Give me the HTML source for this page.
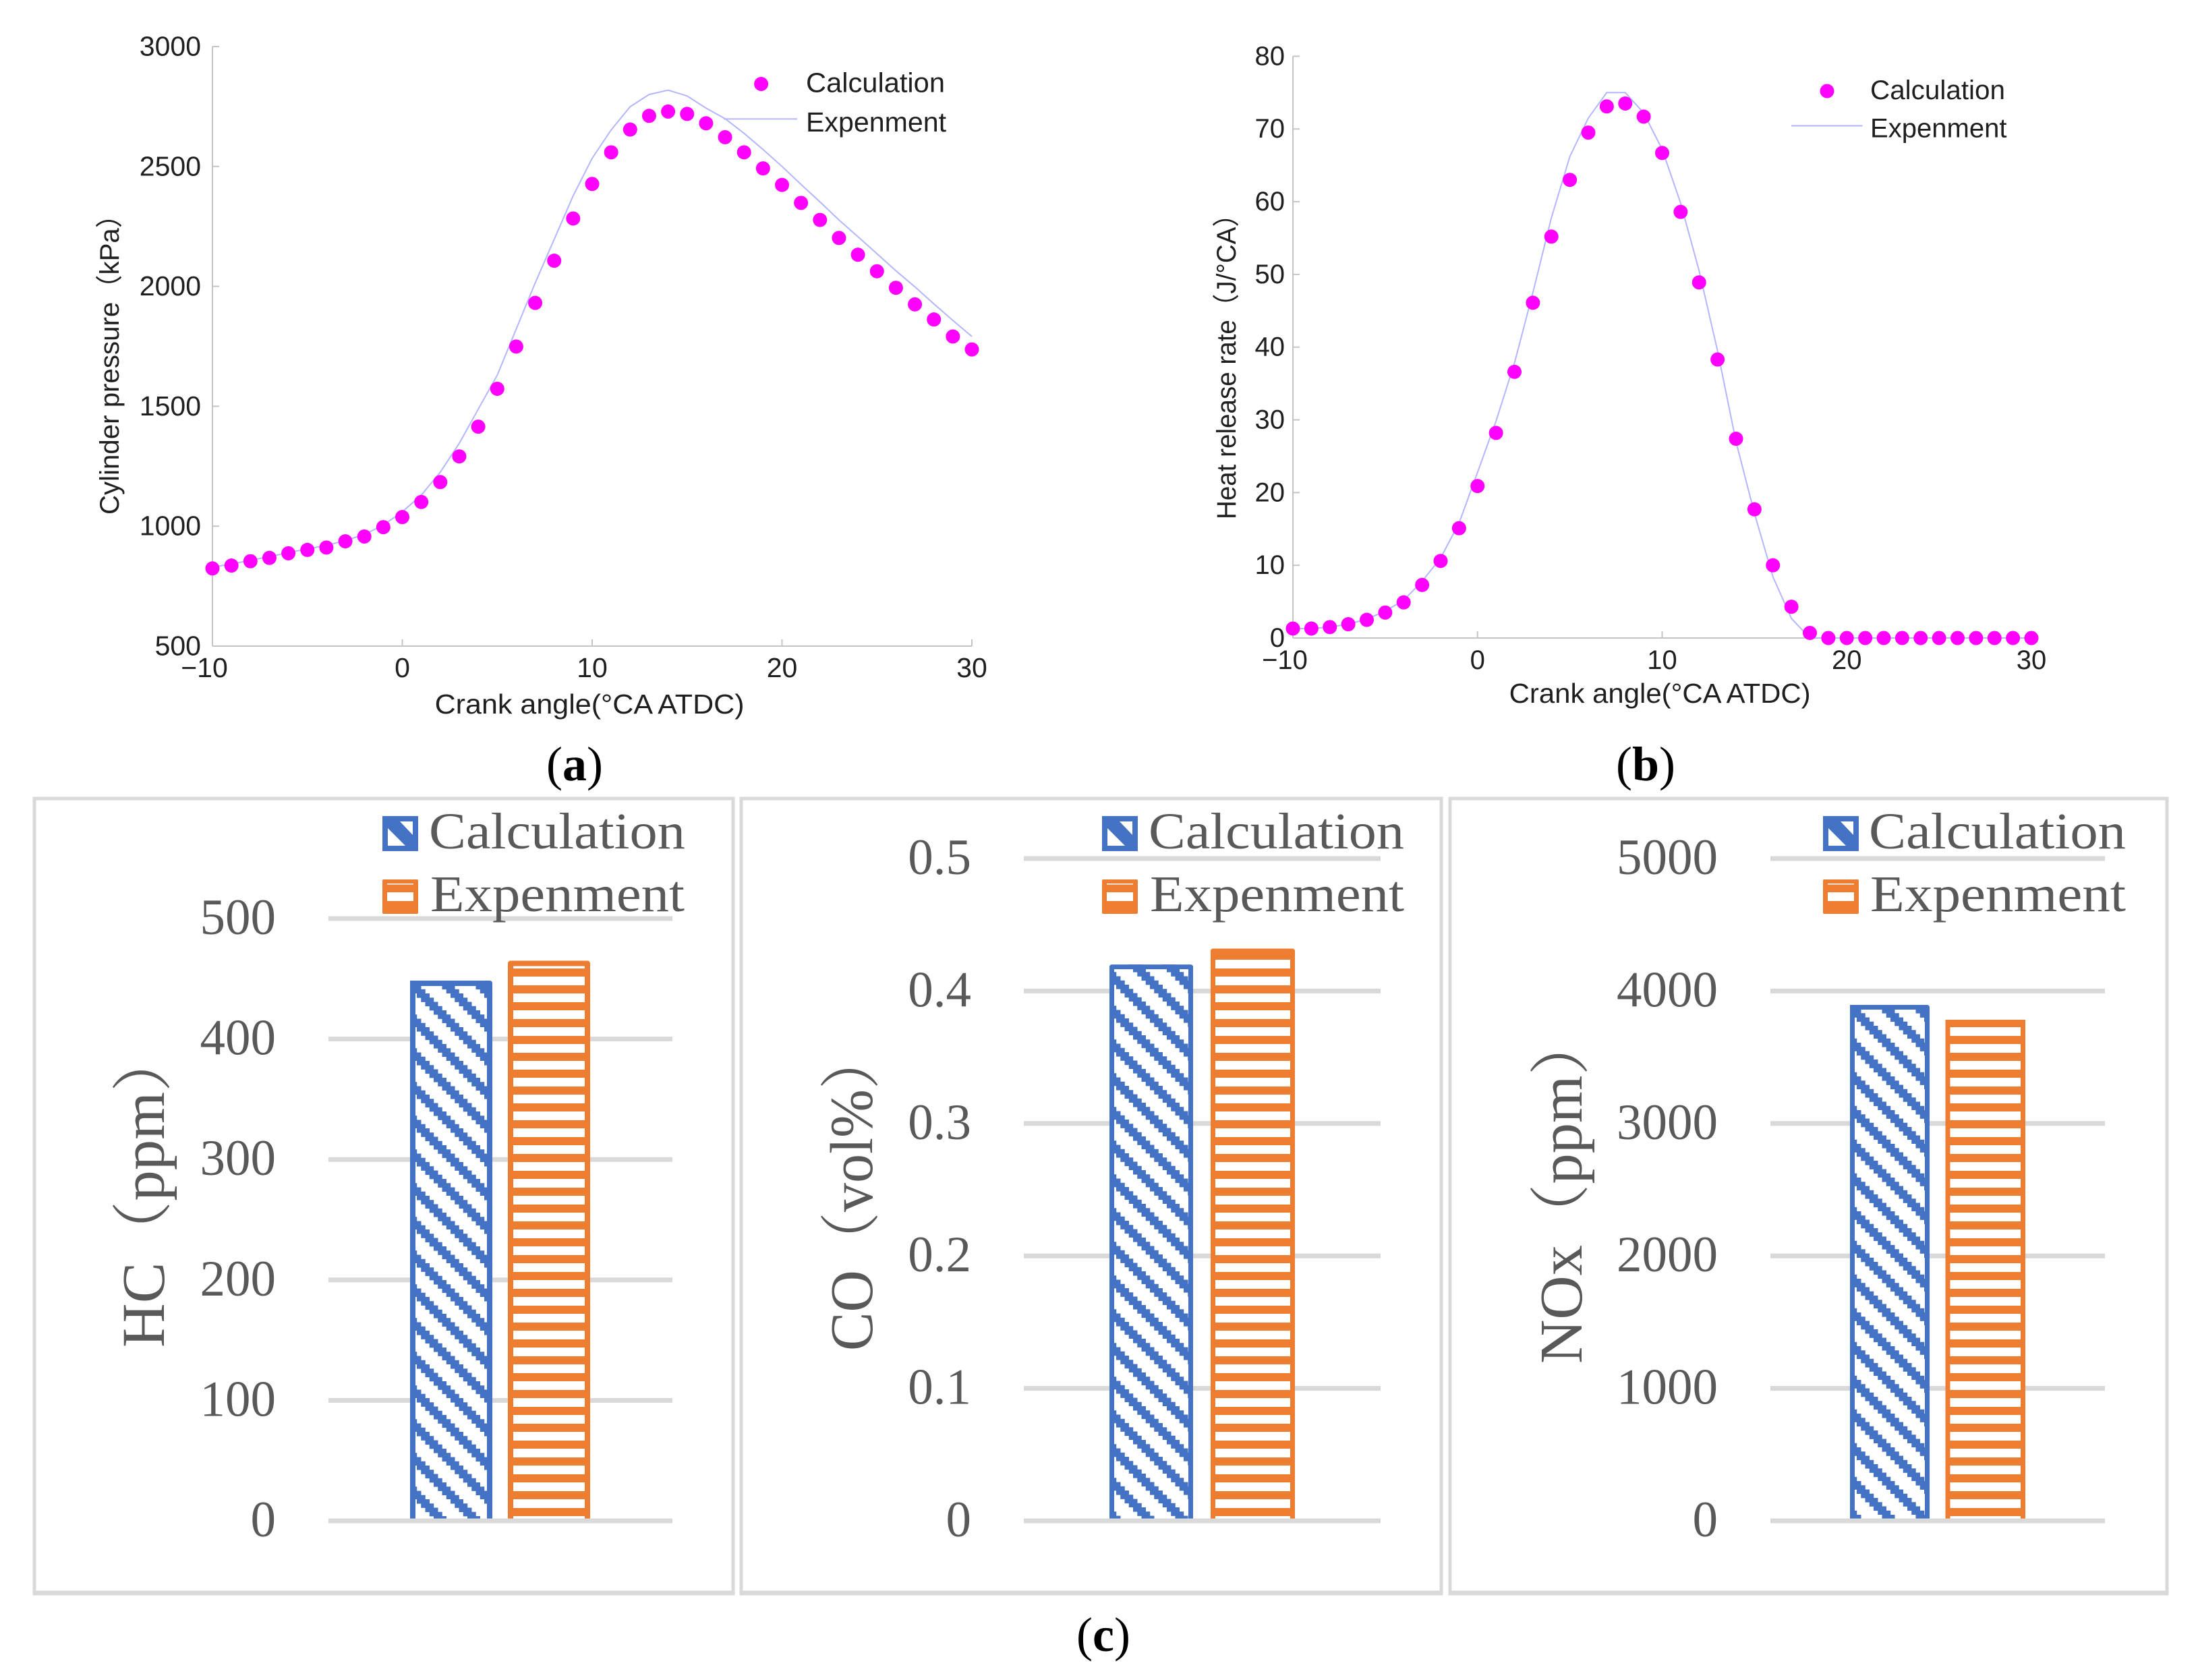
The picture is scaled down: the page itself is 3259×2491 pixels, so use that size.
<!DOCTYPE html>
<html lang="en">
<head>
<meta charset="utf-8">
<title>Model validation charts</title>
<style>
html,body{margin:0;padding:0;background:#fff;}
svg{display:block;}
.sans{font-family:"Liberation Sans","Noto Sans CJK SC",sans-serif;fill:#1f1f1f;}
.serif{font-family:"Liberation Serif","Noto Serif CJK SC",serif;fill:#595959;}
.cap{font-family:"Liberation Serif",serif;fill:#000;font-size:72px;}
</style>
</head>
<body>
<svg id="figure" xmlns="http://www.w3.org/2000/svg" width="3259" height="2491" viewBox="0 0 3259 2491">
  <rect width="3259" height="2491" fill="#fff"/>

  <!-- Panel (a) -->
  <g id="chart-a"></g>
  <text class="sans" x="644.6" y="1058" font-size="41" textLength="459" lengthAdjust="spacingAndGlyphs">Crank angle(°CA ATDC)</text>
  <text class="sans" transform="translate(176 763) rotate(-90)" font-size="40" textLength="465" lengthAdjust="spacingAndGlyphs">Cylinder pressure（kPa）</text>
  <g>
    <circle cx="1128.6" cy="124.5" r="10.5" fill="#ff00ff"/>
    <text class="sans" x="1195" y="136.7" font-size="41" textLength="206" lengthAdjust="spacingAndGlyphs">Calculation</text>
    <line x1="1073" y1="176.4" x2="1182" y2="176.4" stroke="#b3b5ff" stroke-width="2"/>
    <text class="sans" x="1195" y="195" font-size="41" textLength="208" lengthAdjust="spacingAndGlyphs">Expenment</text>
  </g>
  <text class="cap" x="852" y="1157" text-anchor="middle">(<tspan font-weight="bold">a</tspan>)</text>

  <!-- Panel (b) -->
  <g id="chart-b"></g>
  <text class="sans" x="2237.6" y="1042" font-size="41" textLength="447" lengthAdjust="spacingAndGlyphs">Crank angle(°CA ATDC)</text>
  <text class="sans" transform="translate(1832 770) rotate(-90)" font-size="40" textLength="472" lengthAdjust="spacingAndGlyphs">Heat release rate（J/°CA）</text>
  <g>
    <circle cx="2709" cy="135" r="10.5" fill="#ff00ff"/>
    <text class="sans" x="2773" y="147" font-size="40" textLength="200" lengthAdjust="spacingAndGlyphs">Calculation</text>
    <line x1="2656" y1="186.5" x2="2761.6" y2="186.5" stroke="#b3b5ff" stroke-width="2"/>
    <text class="sans" x="2773" y="203.5" font-size="40" textLength="202.5" lengthAdjust="spacingAndGlyphs">Expenment</text>
  </g>
  <text class="cap" x="2440" y="1157" text-anchor="middle">(<tspan font-weight="bold">b</tspan>)</text>

  <!-- Panel (c) -->
  <g id="chart-hc"></g>
  <g id="chart-co"></g>
  <g id="chart-nox"></g>

  <text class="serif" transform="translate(243 1998) rotate(-90)" font-size="90" textLength="470" lengthAdjust="spacingAndGlyphs">HC（ppm）</text>
  <text class="serif" transform="translate(1293 2003) rotate(-90)" font-size="90" textLength="474" lengthAdjust="spacingAndGlyphs">CO（vol%）</text>
  <text class="serif" transform="translate(2345 2022) rotate(-90)" font-size="90" textLength="518" lengthAdjust="spacingAndGlyphs">NOx（ppm）</text>

  <g>
    <g transform="translate(567 1210)">
      <rect x="4" y="4" width="45" height="44" fill="#fff" stroke="#4472c4" stroke-width="8"/>
      <polygon points="8,8 26,8 45,28 45,44 34,44 8,18" fill="#4472c4"/>
    </g>
    <text class="serif" x="636" y="1258" font-size="76" textLength="380" lengthAdjust="spacingAndGlyphs">Calculation</text>
    <g transform="translate(567 1304)">
      <rect width="53" height="51" rx="2" fill="#ed7d31"/>
      <rect x="7" y="6" width="39" height="1.5" fill="#fff"/>
      <rect x="7" y="19" width="39" height="13" fill="#fff"/>
    </g>
    <text class="serif" x="638" y="1351" font-size="76" textLength="377" lengthAdjust="spacingAndGlyphs">Expenment</text>
  </g>
  <g>
    <g transform="translate(1634 1210)">
      <rect x="4" y="4" width="45" height="44" fill="#fff" stroke="#4472c4" stroke-width="8"/>
      <polygon points="8,8 26,8 45,28 45,44 34,44 8,18" fill="#4472c4"/>
    </g>
    <text class="serif" x="1703" y="1258" font-size="76" textLength="379" lengthAdjust="spacingAndGlyphs">Calculation</text>
    <g transform="translate(1634 1304)">
      <rect width="53" height="51" rx="2" fill="#ed7d31"/>
      <rect x="7" y="6" width="39" height="1.5" fill="#fff"/>
      <rect x="7" y="19" width="39" height="13" fill="#fff"/>
    </g>
    <text class="serif" x="1705" y="1351" font-size="76" textLength="377" lengthAdjust="spacingAndGlyphs">Expenment</text>
  </g>
  <g>
    <g transform="translate(2703 1210)">
      <rect x="4" y="4" width="45" height="44" fill="#fff" stroke="#4472c4" stroke-width="8"/>
      <polygon points="8,8 26,8 45,28 45,44 34,44 8,18" fill="#4472c4"/>
    </g>
    <text class="serif" x="2771" y="1258" font-size="76" textLength="381" lengthAdjust="spacingAndGlyphs">Calculation</text>
    <g transform="translate(2703 1304)">
      <rect width="53" height="51" rx="2" fill="#ed7d31"/>
      <rect x="7" y="6" width="39" height="1.5" fill="#fff"/>
      <rect x="7" y="19" width="39" height="13" fill="#fff"/>
    </g>
    <text class="serif" x="2773" y="1351" font-size="76" textLength="379" lengthAdjust="spacingAndGlyphs">Expenment</text>
  </g>
  <text class="cap" x="1636" y="2448" text-anchor="middle">(<tspan font-weight="bold">c</tspan>)</text>
</svg>

<script>
const crankAngles = [-10,-9,-8,-7,-6,-5,-4,-3,-2,-1,0,1,2,3,4,5,6,7,8,9,10,11,12,13,14,15,16,17,18,19,20,21,22,23,24,25,26,27,28,29,30];
const pressureCalculation = [824,836,854,868,887,901,911,937,957,996,1038,1101,1184,1291,1415,1573,1749,1931,2107,2283,2427,2559,2654,2711,2729,2719,2680,2622,2559,2492,2423,2348,2277,2202,2132,2063,1994,1925,1862,1791,1737];
const pressureExperiment = [830,842,858,873,890,905,920,940,965,1005,1060,1130,1225,1346,1488,1630,1822,2014,2196,2378,2534,2652,2749,2800,2818,2794,2743,2699,2638,2571,2500,2425,2352,2277,2207,2136,2065,1998,1927,1858,1791];
const heatCalculation = [1.3,1.3,1.5,1.9,2.5,3.5,4.9,7.3,10.6,15.1,20.9,28.2,36.6,46.1,55.2,63,69.5,73.1,73.5,71.7,66.7,58.6,48.9,38.3,27.4,17.7,10,4.3,0.7,0,0,0,0,0,0,0,0,0,0,0,0];
const heatExperiment = [1.3,1.3,1.5,1.9,2.6,3.7,5.2,7.8,11,15.8,22.8,29.8,37.8,47.5,57.8,66.2,71.5,75,75,72.2,67.2,59.8,50.5,39.5,27,17.1,8.4,2.7,0,0,0,0,0,0,0,0,0,0,0,0,0];
const crankTicks = [-10,0,10,20,30];
const pressureTicks = [500,1000,1500,2000,2500,3000];
const heatTicks = [0,10,20,30,40,50,60,70,80];
const hcTicks = [0,100,200,300,400,500];
const coTicks = ['0','0.1','0.2','0.3','0.4','0.5'];
const noxTicks = [0,1000,2000,3000,4000,5000];
const seriesNames = ['calculation','experiment'];
const hcValues = [448.5,465];
const coValues = [0.42,0.432];
const noxValues = [3895,3783];

const NS = 'http://www.w3.org/2000/svg';
function mk(parent, tag, attrs, txt) {
  const el = document.createElementNS(NS, tag);
  for (const k in attrs) el.setAttribute(k, attrs[k]);
  if (txt !== undefined) el.textContent = txt;
  parent.appendChild(el);
  return el;
}
function scale(d0, d1, r0, r1) {
  return function (v) { return r0 + (v - d0) / (d1 - d0) * (r1 - r0); };
}

function lineChart(rootId, prefix, box, ticksX, ticksY, calc, expt) {
  const root = document.getElementById(rootId);
  const xA = scale(ticksX[0], ticksX[ticksX.length - 1], box.left, box.right);
  const yA = scale(ticksY[0], ticksY[ticksY.length - 1], box.bottom, box.top);

  const yAxis = mk(root, 'line', {x1: box.left, x2: box.left, y1: box.top, y2: box.bottom, stroke: '#c4c4c4', 'stroke-width': 2});
  
  
  const xAxis = mk(root, 'line', {x1: box.left, x2: box.right, y1: box.bottom, y2: box.bottom, stroke: '#c4c4c4', 'stroke-width': 2});
  
  

  ticksY.forEach(function (t) {
    const tick = mk(root, 'line', {x1: box.left, x2: box.left + 10, y1: yA(t), y2: yA(t), stroke: '#c4c4c4', 'stroke-width': 2});
    
    
    const label = mk(root, 'text', {x: box.labelRight, y: yA(t) + box.yLabelDy, 'text-anchor': 'end', 'font-size': box.font, class: 'sans'}, String(t));
    
    
  });
  ticksX.forEach(function (t) {
    const tick = mk(root, 'line', {x1: xA(t), x2: xA(t), y1: box.bottom, y2: box.bottom - 10, stroke: '#c4c4c4', 'stroke-width': 2});
    
    
    const shift = t < 0 ? -12 : 0;
    const label = mk(root, 'text', {x: xA(t) + shift, y: box.xLabelY, 'text-anchor': 'middle', 'font-size': box.font, class: 'sans'}, String(t).replace('-', '\u2212'));
    
    
  });

  const pts = crankAngles.map(function (a, i) { return xA(a).toFixed(1) + ',' + yA(expt[i]).toFixed(1); }).join(' ');
  const line = mk(root, 'polyline', {points: pts, fill: 'none', stroke: '#b3b5ff', 'stroke-width': 2});
  
  

  crankAngles.forEach(function (a, i) {
    const dot = mk(root, 'circle', {cx: xA(a), cy: yA(calc[i]), r: 10.5, fill: '#ff00ff'});
    
    
  });
}

lineChart('chart-a', 'a', {left: 315, right: 1441, top: 69, bottom: 958, labelRight: 298, yLabelDy: 13.5, xLabelY: 1004, font: 41}, crankTicks, pressureTicks, pressureCalculation, pressureExperiment);
lineChart('chart-b', 'b', {left: 1917, right: 3012, top: 83.4, bottom: 946, labelRight: 1905, yLabelDy: 13, xLabelY: 992, font: 40}, crankTicks, heatTicks, heatCalculation, heatExperiment);

function barChart(rootId, prefix, cfg, tickLabels, values) {
  const root = document.getElementById(rootId);
  const maxTick = Number(tickLabels[tickLabels.length - 1]);
  const yA = scale(0, maxTick, cfg.base, cfg.top);

  const frame = mk(root, 'rect', {x: cfg.frameL, y: 1184, width: cfg.frameR - cfg.frameL, height: 1178, fill: '#fff', stroke: '#d9d9d9', 'stroke-width': 5});
  
  
  const frameBase = mk(root, 'rect', {x: cfg.frameL - 2.5, y: 2358.5, width: cfg.frameR - cfg.frameL + 5, height: 7, fill: '#d9d9d9'});
  
  

  tickLabels.forEach(function (t) {
    const yv = yA(Number(t));
    const grid = mk(root, 'rect', {x: cfg.gridL, y: yv - 3.5, width: cfg.gridR - cfg.gridL, height: 7, fill: '#d9d9d9'});
    
    
    const label = mk(root, 'text', {x: cfg.labelRight, y: yv + 23, 'text-anchor': 'end', 'font-size': 75, class: 'serif'}, String(t));
    
    
  });

  const defs = mk(root, 'defs', {});
  const hatchId = prefix + '-hatch';
  const hatch = mk(defs, 'pattern', {id: hatchId, patternUnits: 'userSpaceOnUse', width: 50, height: 50, x: cfg.hatchX, y: cfg.hatchY});
  for (let i = 0; i < 8; i++) {
    const off = i * 6.25;
    mk(hatch, 'rect', {x: off, y: off, width: 19, height: 6.6, fill: '#4472c4'});
    if (off + 19 > 50) mk(hatch, 'rect', {x: off - 50, y: off, width: 19, height: 6.6, fill: '#4472c4'});
  }
  const stripeId = prefix + '-stripe';
  const stripe = mk(defs, 'pattern', {id: stripeId, patternUnits: 'userSpaceOnUse', width: 25, height: 25, x: 0, y: 1436});
  mk(stripe, 'rect', {x: 0, y: 0, width: 25, height: 12, fill: '#ed7d31'});

  seriesNames.forEach(function (name, i) {
    const x0 = cfg.barX[i];
    const w = cfg.barW[i];
    const topY = yA(values[i]);
    const sw = cfg.stroke;
    const h = cfg.base - 3.5 - topY;
    const color = i === 0 ? '#4472c4' : '#ed7d31';
    const bg = mk(root, 'rect', {x: x0, y: topY, width: w, height: h, fill: '#fff'});
    
    
    const fill = mk(root, 'rect', {x: x0, y: topY, width: w, height: h, fill: 'url(#' + (i === 0 ? hatchId : stripeId) + ')', 'shape-rendering': 'crispEdges'});
    
    
    const border = mk(root, 'path', {d: 'M' + (x0 + sw / 2) + ' ' + (topY + h) + 'V' + (topY + sw / 2) + 'H' + (x0 + w - sw / 2) + 'V' + (topY + h), fill: 'none', stroke: color, 'stroke-width': sw, 'stroke-linejoin': 'round'});
    
    
  });

  const baseline = mk(root, 'rect', {x: cfg.gridL, y: cfg.base - 3.5, width: cfg.gridR - cfg.gridL, height: 7, fill: '#d9d9d9'});
  
  
}

barChart('chart-hc', 'hc', {frameL: 51, frameR: 1087, gridL: 487, gridR: 997, top: 1362, base: 2255, labelRight: 409, barX: [608, 753], barW: [122, 122], stroke: 8, hatchX: 618, hatchY: 1473}, hcTicks, hcValues);
barChart('chart-co', 'co', {frameL: 1099, frameR: 2137, gridL: 1518, gridR: 2047, top: 1273, base: 2255, labelRight: 1440, barX: [1645, 1795], barW: [124, 125], stroke: 7, hatchX: 1680, hatchY: 1435}, coTicks, coValues);
barChart('chart-nox', 'nox', {frameL: 2150, frameR: 3213, gridL: 2625, gridR: 3121, top: 1273, base: 2255, labelRight: 2547, barX: [2743, 2884.5], barW: [118, 118.5], stroke: 7, hatchX: 2790.5, hatchY: 1496}, noxTicks, noxValues);
</script>
</body>
</html>
